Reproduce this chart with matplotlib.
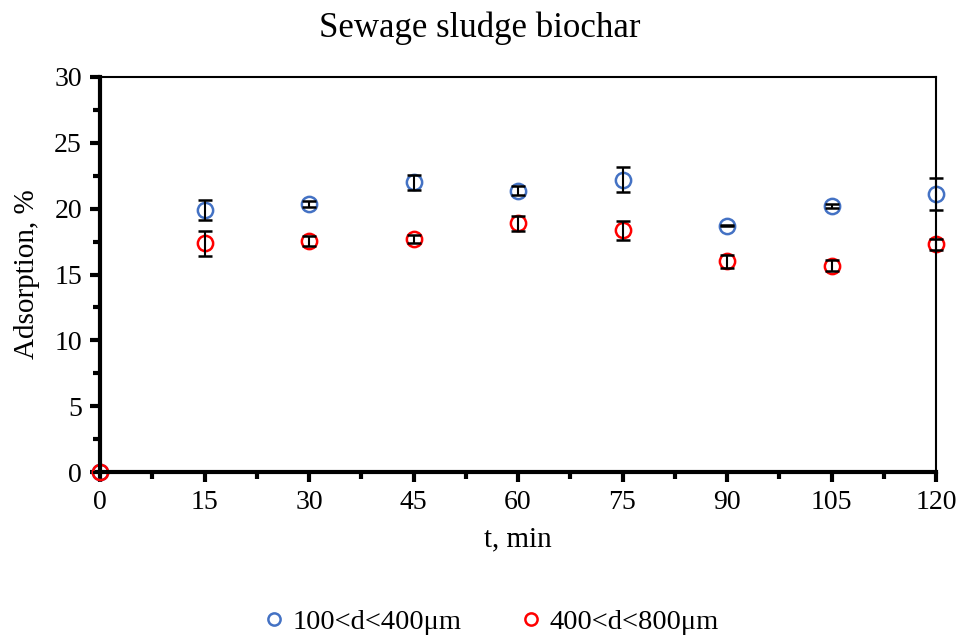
import numpy as np
import matplotlib.pyplot as plt
from matplotlib.ticker import MultipleLocator

plt.rcParams['font.family'] = ['Liberation Serif', 'DejaVu Serif']

t = [0, 15, 30, 45, 60, 75, 90, 105, 120]

# 100<d<400 um fraction
fine = [0, 19.9, 20.35, 22.0, 21.36, 22.2, 18.7, 20.2, 21.1]
fine_err = [0, 0.73, 0.25, 0.57, 0.33, 0.97, 0.05, 0.15, 1.2]

# 400<d<800 um fraction
coarse = [0, 17.36, 17.55, 17.7, 18.9, 18.35, 16.0, 15.67, 17.3]
coarse_err = [0, 0.97, 0.35, 0.3, 0.56, 0.7, 0.48, 0.4, 0.42]

fig = plt.figure(figsize=(9.65, 6.4), dpi=100)
ax = fig.add_axes([100/965, 1 - 472/640, 836/965, 395/640])

for y, err, col, lab in [(fine, fine_err, '#4472C4', '100<d<400μm'),
                         (coarse, coarse_err, '#FF0000', '400<d<800μm')]:
    ax.errorbar(t, y, yerr=err, fmt='none', ecolor='black', elinewidth=1.5,
                capsize=5, capthick=1.8, clip_on=False, zorder=3)
    ax.plot(t, y, 'o', ms=11, mfc='none', mec=col, mew=1.8, label=lab,
            clip_on=False, zorder=2)

ax.set_xlim(0, 120)
ax.set_ylim(0, 30)
ax.xaxis.set_major_locator(MultipleLocator(15))
ax.xaxis.set_minor_locator(MultipleLocator(7.5))
ax.yaxis.set_major_locator(MultipleLocator(5))
ax.yaxis.set_minor_locator(MultipleLocator(2.5))
ax.tick_params(which='major', direction='out', length=7, width=3,
               labelsize=20, pad=6)
ax.tick_params(which='minor', direction='out', length=5, width=3)

ax.spines['left'].set_linewidth(3)
ax.spines['bottom'].set_linewidth(3)
ax.spines['top'].set_linewidth(1.5)
ax.spines['right'].set_linewidth(1.5)

ax.set_xlabel('t, min', fontsize=21, labelpad=8)
ax.set_ylabel('Adsorption, %', fontsize=21, labelpad=10)
fig.suptitle('Sewage sludge biochar', fontsize=25, x=0.497, y=1 - 28/640,
             va='center')

fig.legend(loc='center', bbox_to_anchor=(0.508, 1 - 622/640), ncol=2,
           frameon=False, fontsize=20.5, handlelength=0.9, handletextpad=0.2,
           columnspacing=2.0, markerscale=0.8)

fig.savefig('out.png', dpi=100)
